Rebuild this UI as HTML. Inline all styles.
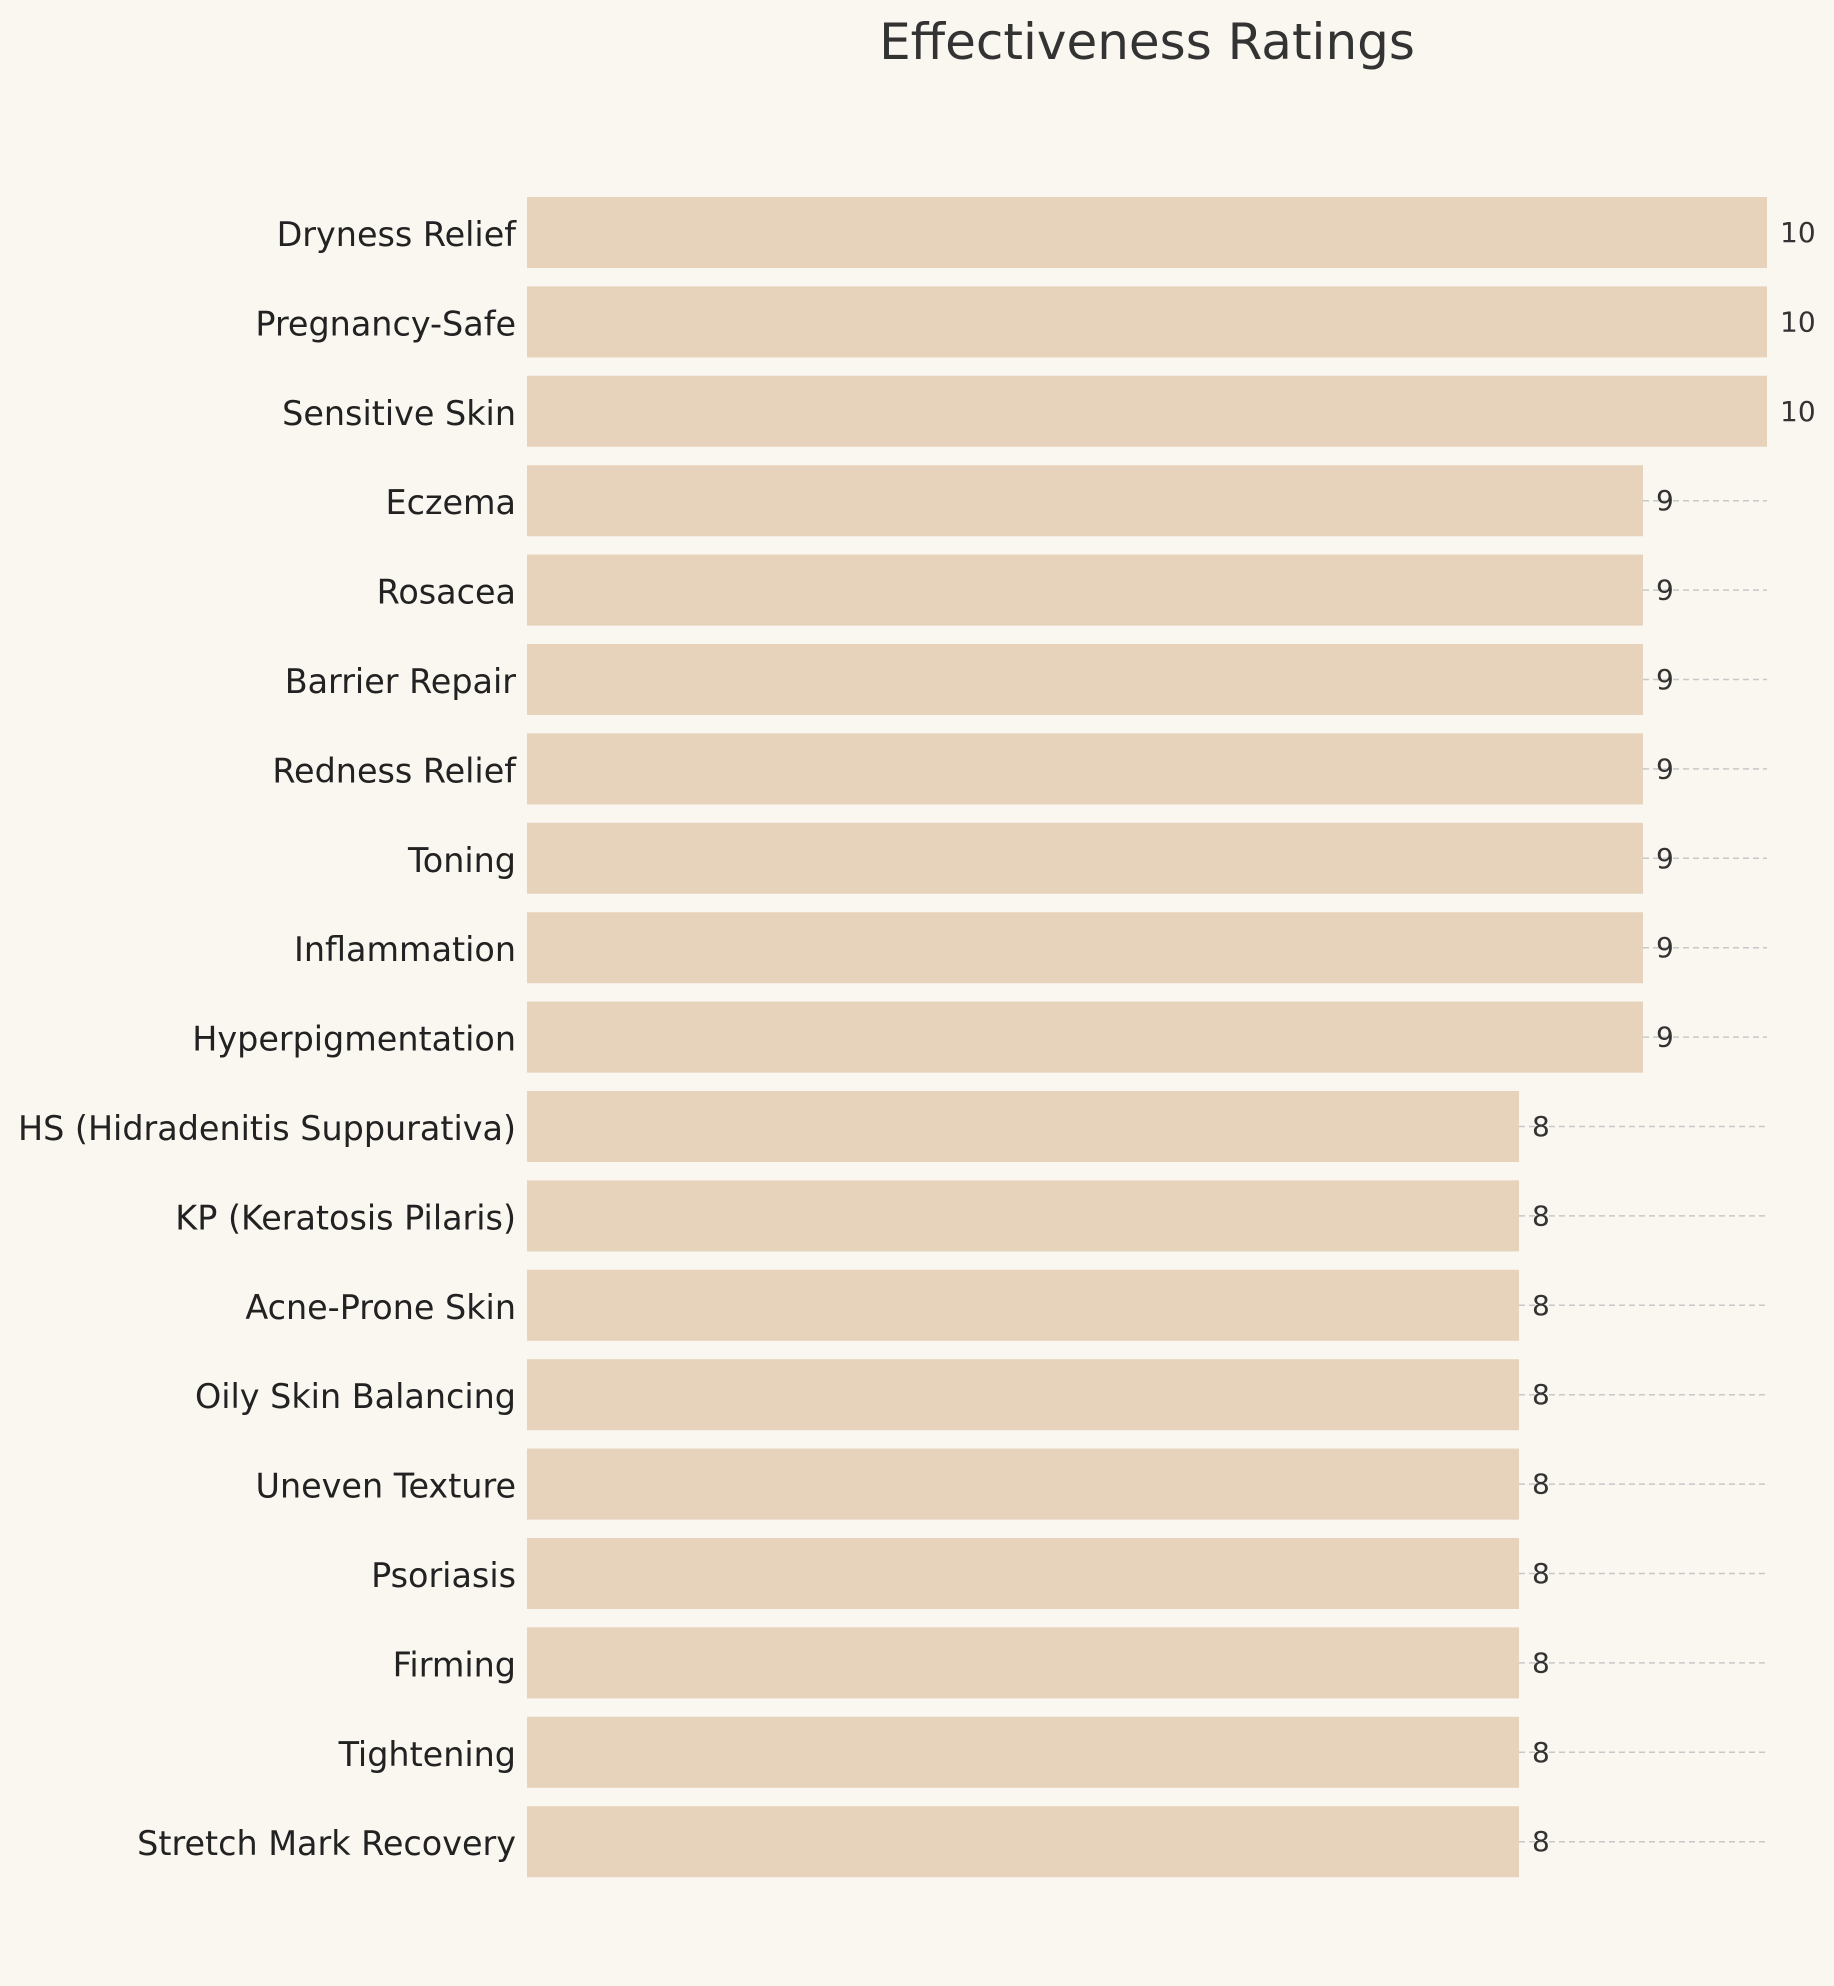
<!DOCTYPE html>
<html><head><meta charset="utf-8"><style>html,body{margin:0;padding:0;background:#faf6f0;}</style></head>
<body>
<svg width="1834" height="1981" xmlns="http://www.w3.org/2000/svg" font-family="'DejaVu Sans','Liberation Sans',sans-serif">
<rect width="1834" height="1981" fill="#faf6f0"/>
<text x="1147" y="42" font-size="50" fill="#333" text-anchor="middle" dominant-baseline="central">Effectiveness Ratings</text>
<g id="bars"></g>
</svg>
<script>
var d=[["Dryness Relief",10],["Pregnancy-Safe",10],["Sensitive Skin",10],["Eczema",9],["Rosacea",9],["Barrier Repair",9],["Redness Relief",9],["Toning",9],["Inflammation",9],["Hyperpigmentation",9],["HS (Hidradenitis Suppurativa)",8],["KP (Keratosis Pilaris)",8],["Acne-Prone Skin",8],["Oily Skin Balancing",8],["Uneven Texture",8],["Psoriasis",8],["Firming",8],["Tightening",8],["Stretch Mark Recovery",8]];
var s="";
d.forEach(function(r,i){
 var top=197+i*89.4, cy=top+35.5, w=r[1]*124, x1=527+w;
 s+='<rect x="527" y="'+top+'" width="'+w+'" height="71" fill="#e7d3bb"/>';
 if(r[1]<10) s+='<line x1="'+x1+'" y1="'+cy+'" x2="1767" y2="'+cy+'" stroke="#c8c8c8" stroke-width="1.5" stroke-dasharray="6,4"/>';
 s+='<text x="'+(x1+13)+'" y="'+cy+'" font-size="28" fill="#333" dominant-baseline="central">'+r[1]+'</text>';
 s+='<text x="516" y="'+(cy+2)+'" font-size="33.4" fill="#222" text-anchor="end" dominant-baseline="central">'+r[0]+'</text>';
});
document.getElementById("bars").innerHTML=s;
</script>
</body></html>
